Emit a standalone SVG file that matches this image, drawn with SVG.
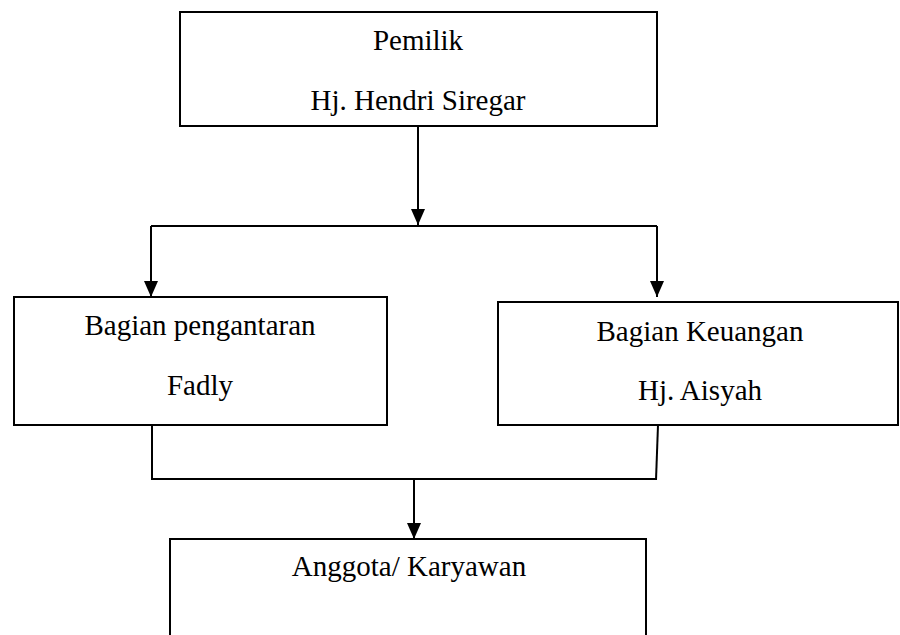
<svg xmlns="http://www.w3.org/2000/svg" width="900" height="635" viewBox="0 0 900 635">
  <defs>
    <style>
      .box { fill: #ffffff; stroke: #000000; stroke-width: 2; }
      .lbl { font-family: "Liberation Serif", "Times New Roman", "DejaVu Serif", serif; font-size: 29px; fill: #000000; text-anchor: middle; }
      .con { fill: none; stroke: #000000; stroke-width: 2; }
    </style>
    <marker id="arr" markerUnits="userSpaceOnUse" markerWidth="16" markerHeight="14" viewBox="0 0 16 14" refX="16" refY="7" orient="auto">
      <path d="M0,0 L16,7 L0,14 Z" fill="#000000"/>
    </marker>
  </defs>
  <rect width="900" height="635" fill="#ffffff"/>

  <g id="pemilik">
    <rect class="box" x="180" y="12" width="477" height="114"/>
    <text class="lbl" x="418" y="50" font-family="Liberation Serif, serif">Pemilik</text>
    <text class="lbl" x="418" y="110" font-family="Liberation Serif, serif">Hj. Hendri Siregar</text>
  </g>

  <g id="pengantaran">
    <rect class="box" x="14" y="297" width="373" height="128"/>
    <text class="lbl" x="200" y="335" font-family="Liberation Serif, serif">Bagian pengantaran</text>
    <text class="lbl" x="200" y="395" font-family="Liberation Serif, serif">Fadly</text>
  </g>

  <g id="keuangan">
    <rect class="box" x="498" y="302" width="400" height="123"/>
    <text class="lbl" x="700" y="341" font-family="Liberation Serif, serif">Bagian Keuangan</text>
    <text class="lbl" x="700" y="400" font-family="Liberation Serif, serif">Hj. Aisyah</text>
  </g>

  <g id="anggota">
    <rect class="box" x="170" y="539" width="476" height="110"/>
    <text class="lbl" x="409" y="576" font-family="Liberation Serif, serif">Anggota/ Karyawan</text>
  </g>

  <g id="connectors">
    <line class="con" x1="418" y1="126" x2="418" y2="225" marker-end="url(#arr)"/>
    <line class="con" x1="151" y1="226" x2="657" y2="226"/>
    <line class="con" x1="151" y1="226" x2="151" y2="297" marker-end="url(#arr)"/>
    <line class="con" x1="657" y1="226" x2="657" y2="297" marker-end="url(#arr)"/>
    <line class="con" x1="152" y1="425" x2="152" y2="480"/>
    <line class="con" x1="658" y1="425" x2="656" y2="480"/>
    <line class="con" x1="151" y1="479" x2="657" y2="479"/>
    <line class="con" x1="414" y1="479" x2="414" y2="539" marker-end="url(#arr)"/>
  </g>
</svg>
